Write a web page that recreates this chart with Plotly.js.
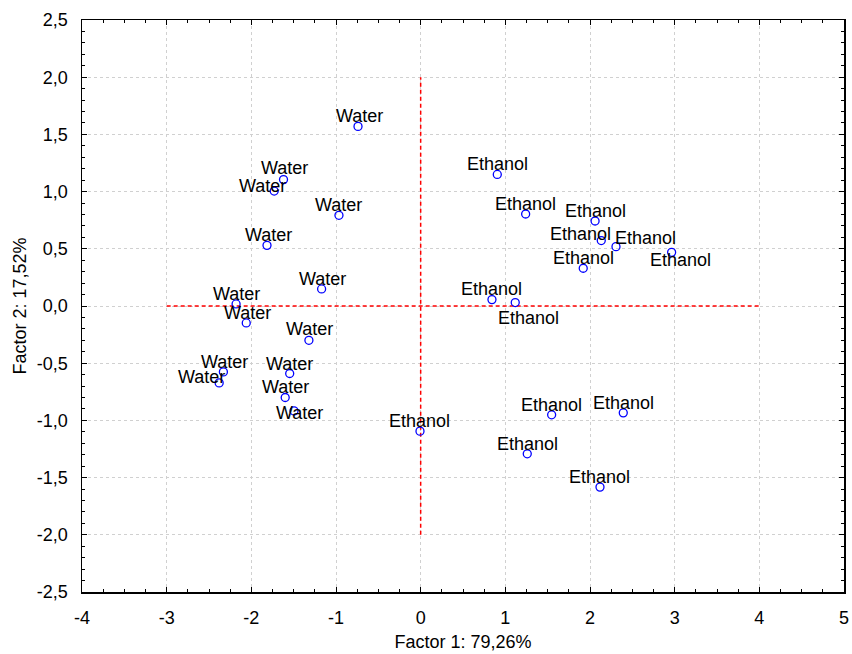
<!DOCTYPE html>
<html>
<head>
<meta charset="utf-8">
<script src="https://cdn.plot.ly/plotly-3.0.1.min.js"></script>
<style>html,body{margin:0;padding:0;background:#fff;}#chart{width:852px;height:654px;}</style>
</head>
<body>
<div id="chart"></div>
<script>
// ---- data ----
const waterX = [-0.74, -1.62, -1.73, -0.965, -1.815, -1.17, -2.18, -2.06, -1.32, -2.33, -2.38, -1.547, -1.60, -1.496];
const waterY = [1.57, 1.105, 1.005, 0.793, 0.53, 0.149, 0.018, -0.148, -0.30, -0.576, -0.672, -0.59, -0.80, -0.917];
const ethanolX = [0.905, 1.24, 2.06, 2.133, 2.307, 2.964, 1.92, 0.842, 1.117, 1.547, 2.393, 1.259, 2.118, -0.008];
const ethanolY = [1.15, 0.804, 0.743, 0.572, 0.519, 0.469, 0.33, 0.056, 0.030, -0.951, -0.934, -1.292, -1.583, -1.094];
const waterLabel = "Water";
const ethanolLabel = "Ethanol";
const refHX = [-3, 4], refHY = [0, 0];
const refVX = [0, 0], refVY = [-2, 2];
const xTickVals = [-4, -3, -2, -1, 0, 1, 2, 3, 4, 5];
const xTickText = ["-4", "-3", "-2", "-1", "0", "1", "2", "3", "4", "5"];
const yTickVals = [-2.5, -2, -1.5, -1, -0.5, 0, 0.5, 1, 1.5, 2, 2.5];
const yTickText = ["-2,5", "-2,0", "-1,5", "-1,0", "-0,5", "0,0", "0,5", "1,0", "1,5", "2,0", "2,5"];
const xTitle = "Factor 1: 79,26%";
const yTitle = "Factor 2: 17,52%";

// ---- label placement (pixel shifts of each label, style only) ----
const waterShift = [[1,-10],[1,-12],[-12,-5],[0,-10],[1,-10],[1,-10],[0,-10],[1,-10],[1,-11],[1,-10],[-18,-6],[0,-10],[0,-11],[5,2]];
const ethanolShift = [[0,-10],[0,-10],[0,-10],[-21,-7],[30,-9],[9,8],[0,-10],[0,-11],[13,15],[0,-10],[0,-10],[0,-10],[0,-10],[0,-10]];

const FONT = "Liberation Sans, Arial, sans-serif";
const markerStyle = {symbol: "circle-open", size: 8, color: "#0000ff", line: {width: 1.3, color: "#0000ff"}};
const refLine = {color: "#ff0000", width: 1.5, dash: "4px,3px"};

const traces = [
  {x: refHX, y: refHY, mode: "lines", line: refLine, hoverinfo: "skip"},
  {x: refVX, y: refVY, mode: "lines", line: refLine, hoverinfo: "skip"},
  {x: waterX, y: waterY, mode: "markers", marker: markerStyle},
  {x: ethanolX, y: ethanolY, mode: "markers", marker: markerStyle}
];

const annotations = [];
function addLabels(xs, ys, label, shifts) {
  xs.forEach((x, i) => {
    annotations.push({x: x, y: ys[i], text: label, showarrow: false,
      xshift: shifts[i][0], yshift: -shifts[i][1],
      font: {family: FONT, size: 18, color: "#000"}});
  });
}
addLabels(waterX, waterY, waterLabel, waterShift);
addLabels(ethanolX, ethanolY, ethanolLabel, ethanolShift);

const axisCommon = {
  showline: true, linecolor: "#000", linewidth: 1.5, mirror: "ticks",
  ticks: "inside", ticklen: 5, tickwidth: 1, tickcolor: "#000",
  showgrid: true, gridcolor: "#d0d0d0", griddash: "dot", gridwidth: 1,
  zeroline: false,
  tickfont: {family: FONT, size: 18, color: "#000"},
  ticklabelstandoff: 9
};

const layout = {
  width: 852, height: 654,
  margin: {l: 82, r: 8, t: 20, b: 62},
  paper_bgcolor: "#fff", plot_bgcolor: "#fff",
  showlegend: false,
  font: {family: FONT, color: "#000"},
  xaxis: Object.assign({}, axisCommon, {
    range: [-4, 5], tickmode: "array", tickvals: xTickVals, ticktext: xTickText,
    minor: {dtick: 0.25, ticks: "inside", ticklen: 3, tickcolor: "#000", showgrid: false},
    title: {text: xTitle, font: {family: FONT, size: 18, color: "#000"}, standoff: 8}
  }),
  yaxis: Object.assign({}, axisCommon, {
    range: [-2.5, 2.5], tickmode: "array", tickvals: yTickVals, ticktext: yTickText,
    minor: {dtick: 0.1, ticks: "inside", ticklen: 3, tickcolor: "#000", showgrid: false},
    title: {text: yTitle, font: {family: FONT, size: 18, color: "#000"}, standoff: 5}
  }),
  annotations: annotations
};

Plotly.newPlot("chart", traces, layout, {staticPlot: true, displayModeBar: false});
</script>
</body>
</html>
